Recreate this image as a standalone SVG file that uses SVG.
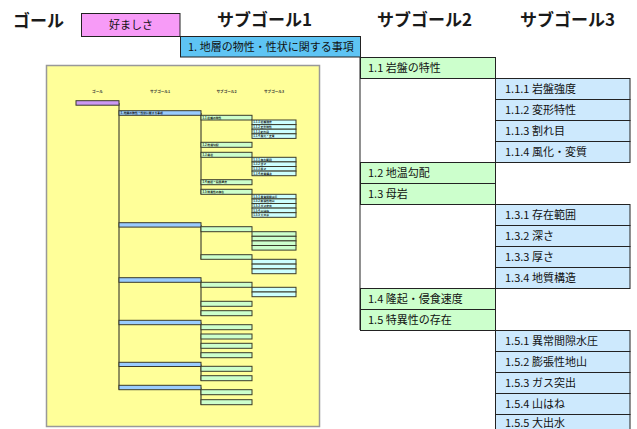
<svg xmlns="http://www.w3.org/2000/svg" width="637" height="429" viewBox="0 0 637 429">
<style>
text{font-family:"Noto Sans CJK JP","Liberation Sans",sans-serif;fill:#111}
.hd{font-size:17px;font-weight:bold;fill:#1a1a1a}
.t{font-size:11px}
.b{stroke:#222;stroke-width:1}
.pink{fill:#F79BF7}
.blue{fill:#5EC4F4}
.green{fill:#CCFFCC}
.lb{fill:#CDE9FD}
.ln{stroke:#222;stroke-width:1;fill:none}
.th{font-size:3.6px;font-weight:bold;fill:#333}
.tt{font-size:2.8px;font-weight:bold;fill:#111}
.tb{stroke:#3a3a2a;stroke-width:1}
.tp{fill:#CC99F5}
.t1{fill:#99CCFF}
.t2{fill:#CCFFCC}
.t3{fill:#CCFFFF}
</style>
<rect width="637" height="429" fill="#fff"/>

<g id="headers">
<text class="hd" x="13" y="27">ゴール</text>
<text class="hd" x="217" y="26">サブゴール1</text>
<text class="hd" x="377" y="26">サブゴール2</text>
<text class="hd" x="520" y="26">サブゴール3</text>
</g>

<g id="thumbnail">
<rect x="46.5" y="65.5" width="273" height="361" fill="#FFFF99" stroke="#999" stroke-width="1.5"/>
<text class="th" x="97.5" y="93" text-anchor="middle">ゴール</text>
<text class="th" x="160" y="93" text-anchor="middle">サブゴール1</text>
<text class="th" x="226.5" y="93" text-anchor="middle">サブゴール2</text>
<text class="th" x="274" y="93" text-anchor="middle">サブゴール3</text>
<g class="ln" stroke-width="0.9">
<line x1="119" y1="103" x2="119" y2="389.7"/>
<line x1="201" y1="113" x2="201" y2="194.3"/>
<line x1="201" y1="225" x2="201" y2="259.5"/>
<line x1="201" y1="280" x2="201" y2="315.7"/>
<line x1="201" y1="322.5" x2="201" y2="357.7"/>
<line x1="201" y1="364.5" x2="201" y2="380.7"/>
<line x1="201" y1="387.5" x2="201" y2="404.7"/>
</g>
<rect class="tb tp" x="76" y="100.7" width="43" height="4.5"/>
<g id="th-sub1">
<rect class="tb t1" x="119" y="110.7" width="82" height="4.6"/>
<rect class="tb t1" x="119" y="222.7" width="82" height="4.4"/>
<rect class="tb t1" x="119" y="277.7" width="82" height="4.6"/>
<rect class="tb t1" x="119" y="320.3" width="82" height="4.4"/>
<rect class="tb t1" x="119" y="362.3" width="82" height="4.2"/>
<rect class="tb t1" x="119" y="385.3" width="82" height="4.4"/>
<text class="tt" x="120.5" y="114.2">1. 地層の物性・性状に関する事項</text>
</g>
<g id="th-sub2">
<rect class="tb t2" x="201" y="115.3" width="51" height="4.7"/>
<rect class="tb t2" x="201" y="142.3" width="51" height="5"/>
<rect class="tb t2" x="201" y="152.3" width="51" height="5"/>
<rect class="tb t2" x="201" y="179.7" width="51" height="5"/>
<rect class="tb t2" x="201" y="189.3" width="51" height="5"/>
<rect class="tb t2" x="201" y="226.7" width="51" height="5"/>
<rect class="tb t2" x="201" y="254.7" width="51" height="4.6"/>
<rect class="tb t2" x="201" y="282.3" width="51" height="5"/>
<rect class="tb t2" x="201" y="301.3" width="51" height="5"/>
<rect class="tb t2" x="201" y="310.7" width="51" height="5"/>
<rect class="tb t2" x="201" y="324.7" width="51" height="5"/>
<rect class="tb t2" x="201" y="334" width="51" height="5"/>
<rect class="tb t2" x="201" y="343.3" width="51" height="5"/>
<rect class="tb t2" x="201" y="352.7" width="51" height="5"/>
<rect class="tb t2" x="201" y="366.3" width="51" height="5"/>
<rect class="tb t2" x="201" y="375.7" width="51" height="5"/>
<rect class="tb t2" x="201" y="389.7" width="51" height="5"/>
<rect class="tb t2" x="201" y="399.7" width="51" height="5"/>
<text class="tt" x="202.5" y="118.8">1.1 岩盤の特性</text>
<text class="tt" x="202.5" y="145.9">1.2 地温勾配</text>
<text class="tt" x="202.5" y="155.9">1.3 母岩</text>
<text class="tt" x="202.5" y="183.3">1.4 隆起・侵食速度</text>
<text class="tt" x="202.5" y="192.9">1.5 特異性の存在</text>
</g>
<g id="th-sub3">
<rect class="tb t3" x="252" y="120" width="44" height="4.6"/>
<rect class="tb t3" x="252" y="124.6" width="44" height="4.6"/>
<rect class="tb t3" x="252" y="129.2" width="44" height="4.6"/>
<rect class="tb t3" x="252" y="133.8" width="44" height="4.6"/>
<rect class="tb t3" x="252" y="157.3" width="44" height="4.6"/>
<rect class="tb t3" x="252" y="161.9" width="44" height="4.6"/>
<rect class="tb t3" x="252" y="166.5" width="44" height="4.6"/>
<rect class="tb t3" x="252" y="171.1" width="44" height="4.6"/>
<rect class="tb t3" x="252" y="194.3" width="44" height="4.6"/>
<rect class="tb t3" x="252" y="198.9" width="44" height="4.6"/>
<rect class="tb t3" x="252" y="203.5" width="44" height="4.6"/>
<rect class="tb t3" x="252" y="208.1" width="44" height="4.6"/>
<rect class="tb t3" x="252" y="212.7" width="44" height="4.6"/>
<rect class="tb t2" x="252" y="231.7" width="44" height="4.6"/>
<rect class="tb t2" x="252" y="236.3" width="44" height="4.6"/>
<rect class="tb t2" x="252" y="240.9" width="44" height="4.6"/>
<rect class="tb t2" x="252" y="245.5" width="44" height="4.6"/>
<rect class="tb t3" x="252" y="259.3" width="44" height="4.8"/>
<rect class="tb t3" x="252" y="264.1" width="44" height="4.8"/>
<rect class="tb t3" x="252" y="268.9" width="44" height="4.8"/>
<rect class="tb t3" x="252" y="287.3" width="44" height="4.7"/>
<rect class="tb t3" x="252" y="292" width="44" height="4.7"/>
<text class="tt" x="253.2" y="123.4">1.1.1 岩盤強度</text>
<text class="tt" x="253.2" y="128">1.1.2 変形特性</text>
<text class="tt" x="253.2" y="132.6">1.1.3 割れ目</text>
<text class="tt" x="253.2" y="137.2">1.1.4 風化・変質</text>
<text class="tt" x="253.2" y="160.7">1.3.1 存在範囲</text>
<text class="tt" x="253.2" y="165.3">1.3.2 深さ</text>
<text class="tt" x="253.2" y="169.9">1.3.3 厚さ</text>
<text class="tt" x="253.2" y="174.5">1.3.4 地質構造</text>
<text class="tt" x="253.2" y="197.7">1.5.1 異常間隙水圧</text>
<text class="tt" x="253.2" y="202.3">1.5.2 膨張性地山</text>
<text class="tt" x="253.2" y="206.9">1.5.3 ガス突出</text>
<text class="tt" x="253.2" y="211.5">1.5.4 山はね</text>
<text class="tt" x="253.2" y="216.1">1.5.5 大出水</text>
</g>
</g>

<g id="connectors">
<line class="ln" x1="360" y1="57" x2="360" y2="330"/>
</g>

<g id="goal">
<rect class="b pink" x="81.5" y="13.5" width="98.5" height="23"/>
<text class="t" x="131" y="29" text-anchor="middle">好ましさ</text>
</g>
<g id="n1">
<rect class="b blue" x="180.5" y="36.5" width="180" height="20.5"/>
<text class="t" x="188" y="51">1. 地層の物性・性状に関する事項</text>
</g>

<g id="n1-1"><rect class="b green" x="360.5" y="57.5" width="135" height="21"/><text class="t" x="368" y="72">1.1 岩盤の特性</text></g>
<g id="n1-1-1"><rect class="b lb" x="495.5" y="78.5" width="134.5" height="21"/><text class="t" x="505" y="93">1.1.1 岩盤強度</text></g>
<g id="n1-1-2"><rect class="b lb" x="495.5" y="99.5" width="134.5" height="21"/><text class="t" x="505" y="114">1.1.2 変形特性</text></g>
<g id="n1-1-3"><rect class="b lb" x="495.5" y="120.5" width="134.5" height="21"/><text class="t" x="505" y="135">1.1.3 割れ目</text></g>
<g id="n1-1-4"><rect class="b lb" x="495.5" y="141.5" width="134.5" height="21"/><text class="t" x="505" y="156">1.1.4 風化・変質</text></g>
<g id="n1-2"><rect class="b green" x="360.5" y="162.5" width="135" height="21"/><text class="t" x="368" y="177">1.2 地温勾配</text></g>
<g id="n1-3"><rect class="b green" x="360.5" y="183.5" width="135" height="21"/><text class="t" x="368" y="198">1.3 母岩</text></g>
<g id="n1-3-1"><rect class="b lb" x="495.5" y="204.5" width="134.5" height="21"/><text class="t" x="505" y="219">1.3.1 存在範囲</text></g>
<g id="n1-3-2"><rect class="b lb" x="495.5" y="225.5" width="134.5" height="21"/><text class="t" x="505" y="240">1.3.2 深さ</text></g>
<g id="n1-3-3"><rect class="b lb" x="495.5" y="246.5" width="134.5" height="21"/><text class="t" x="505" y="261">1.3.3 厚さ</text></g>
<g id="n1-3-4"><rect class="b lb" x="495.5" y="267.5" width="134.5" height="21"/><text class="t" x="505" y="282">1.3.4 地質構造</text></g>
<g id="n1-4"><rect class="b green" x="360.5" y="288.5" width="135" height="21"/><text class="t" x="368" y="303">1.4 隆起・侵食速度</text></g>
<g id="n1-5"><rect class="b green" x="360.5" y="309.5" width="135" height="21"/><text class="t" x="368" y="324">1.5 特異性の存在</text></g>
<g id="n1-5-1"><rect class="b lb" x="495.5" y="330.5" width="134.5" height="21"/><text class="t" x="505" y="345">1.5.1 異常間隙水圧</text></g>
<g id="n1-5-2"><rect class="b lb" x="495.5" y="351.5" width="134.5" height="21"/><text class="t" x="505" y="366">1.5.2 膨張性地山</text></g>
<g id="n1-5-3"><rect class="b lb" x="495.5" y="372.5" width="134.5" height="21"/><text class="t" x="505" y="387">1.5.3 ガス突出</text></g>
<g id="n1-5-4"><rect class="b lb" x="495.5" y="393.5" width="134.5" height="21"/><text class="t" x="505" y="408">1.5.4 山はね</text></g>
<g id="n1-5-5"><rect class="b lb" x="495.5" y="414.5" width="134.5" height="21"/><text class="t" x="505" y="426.5">1.5.5 大出水</text></g>
</svg>
